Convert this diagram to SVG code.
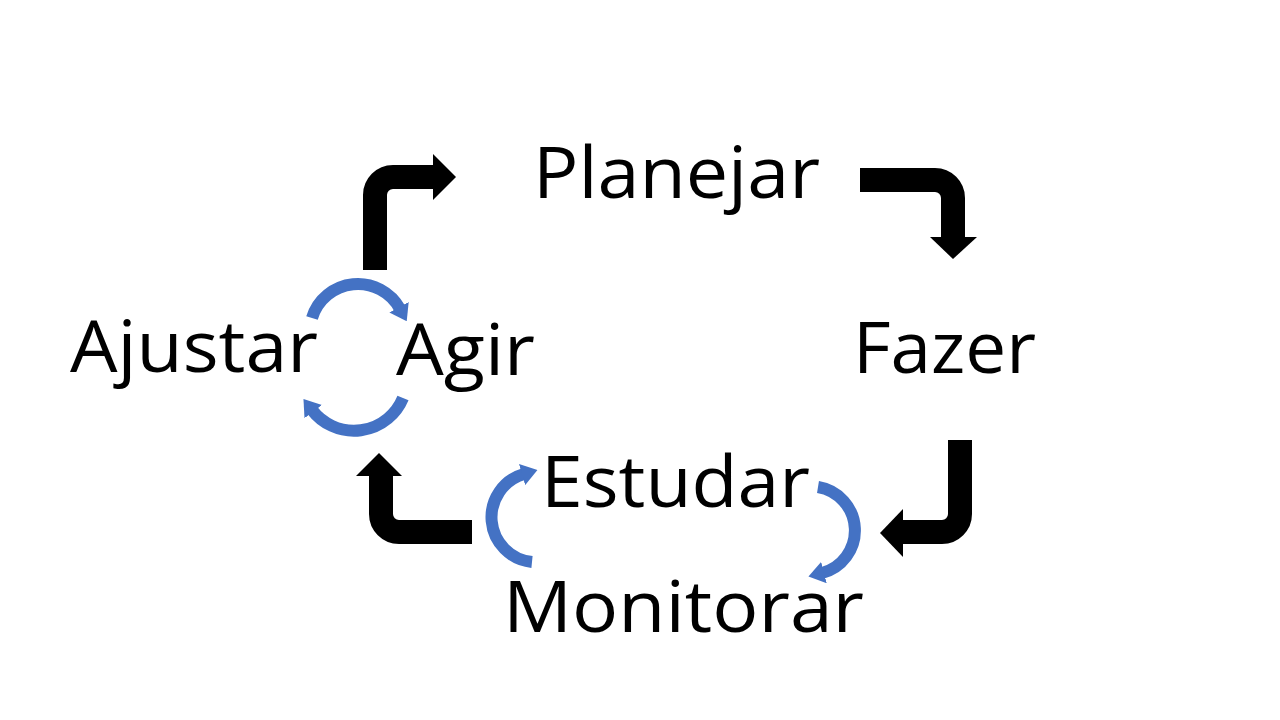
<svg xmlns="http://www.w3.org/2000/svg" width="1280" height="720" viewBox="0 0 1280 720">
<defs>
<style>
.lbl{font-family:"Open Sans","Noto Sans",sans-serif;font-size:72px;fill:#000}
.blk{fill:none;stroke:#000;stroke-width:24;stroke-linecap:butt}
.head{fill:#000}
.blu{fill:none;stroke:#4472C4;stroke-width:12;marker-end:url(#ah)}
</style>
<marker id="ah" markerUnits="userSpaceOnUse" markerWidth="16" markerHeight="22" viewBox="0 0 16 22" refX="2" refY="11" orient="auto">
<path d="M0,0 L16,11 L0,22 z" fill="#4472C4"/>
</marker>
</defs>
<rect width="1280" height="720" fill="#fff"/>
<g id="n-planejar"><text class="lbl" x="533" y="198" textLength="287" lengthAdjust="spacingAndGlyphs">Planejar</text></g>
<g id="n-fazer"><text class="lbl" x="853" y="373" textLength="183" lengthAdjust="spacingAndGlyphs">Fazer</text></g>
<g id="n-estudar"><text class="lbl" x="541" y="507" textLength="269" lengthAdjust="spacingAndGlyphs">Estudar</text></g>
<g id="n-monitorar"><text class="lbl" x="503" y="632" textLength="361" lengthAdjust="spacingAndGlyphs">Monitorar</text></g>
<g id="n-agir"><text class="lbl" x="396" y="375" textLength="139" lengthAdjust="spacingAndGlyphs">Agir</text></g>
<g id="n-ajustar"><text class="lbl" x="70" y="372" textLength="248" lengthAdjust="spacingAndGlyphs">Ajustar</text></g>
<g id="connectors">
<path class="blk" d="M375,270 V195 A18,18 0 0 1 393,177 H435"/>
<polygon class="head" points="433,154 456,177 433,200"/>
<path class="blk" d="M860,180 H935 A18,18 0 0 1 953,198 V238"/>
<polygon class="head" points="930,237 977,237 953,259"/>
<path class="blk" d="M960,440 V514 A18,18 0 0 1 942,532 H902"/>
<polygon class="head" points="903,509 903,557 880,533"/>
<path class="blk" d="M472,532 H399 A18,18 0 0 1 381,514 V474"/>
<polygon class="head" points="356,476 402,476 379,453"/>
<path class="blu" d="M312,318 A48,48 0 0 1 400,309"/>
<path class="blu" d="M403,398 A53,53 0 0 1 312,410"/>
<path class="blu" d="M532,562 A45,45 0 0 1 524,474"/>
<path class="blu" d="M818,487 A44,44 0 0 1 822,573"/>
</g>
</svg>
